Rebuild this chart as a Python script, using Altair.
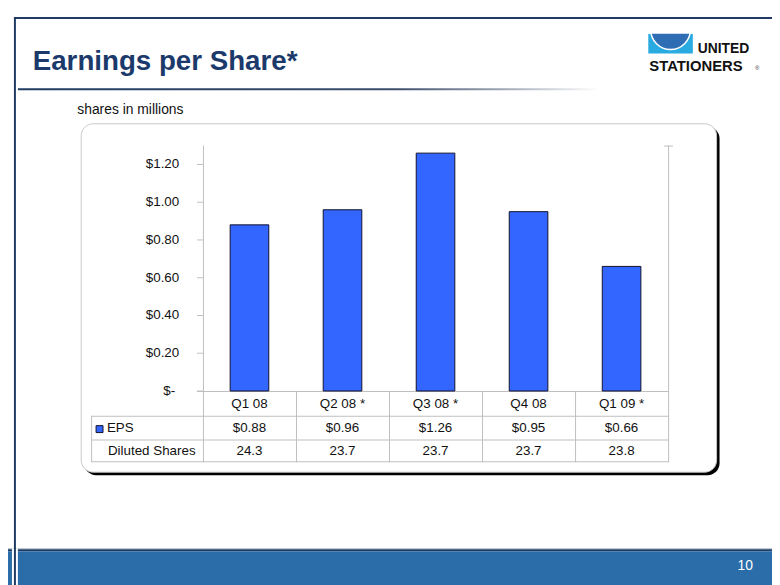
import altair as alt
import pandas as pd

# ---------------- data ----------------
quarters = ["Q1 08", "Q2 08 *", "Q3 08 *", "Q4 08", "Q1 09 *"]
eps = [0.88, 0.96, 1.26, 0.95, 0.66]
eps_labels = ["$0.88", "$0.96", "$1.26", "$0.95", "$0.66"]
diluted_shares = ["24.3", "23.7", "23.7", "23.7", "23.8"]
tick_values = [0.0, 0.2, 0.4, 0.6, 0.8, 1.0, 1.2]
tick_labels = ["$-", "$0.20", "$0.40", "$0.60", "$0.80", "$1.00", "$1.20"]

# ---------------- layout helpers ----------------
OFF = 8  # page margin
W, H = 772, 577
FONT = "Liberation Sans"
NAVY = "#1F3B63"
TITLE = "#1B3A6B"
BLUE_BAR = "#2B6DA8"
GRAY = "#BFBFBF"
BAR = "#3366FF"


def X(v):
    return alt.value(v - OFF)


def Y(v):
    return alt.value(v - OFF)


one = pd.DataFrame({"k": [0]})
data = pd.DataFrame({"quarter": quarters, "eps": eps,
                     "eps_label": eps_labels, "shares": diluted_shares})
ticks = pd.DataFrame({"v": tick_values, "label": tick_labels})

xscale = alt.Scale(domain=quarters, range=[205 - OFF, 675 - OFF],
                   paddingInner=0.585, paddingOuter=0.2925)
yscale = alt.Scale(domain=[0, 1.3], range=[392 - OFF, 144 - OFF],
                   nice=False, zero=True)


def rect(x1, x2, y1, y2, **kw):
    return alt.Chart(one).mark_rect(**kw).encode(x=X(x1), x2=X(x2), y=Y(y1), y2=Y(y2))


def text(txt, x, y, **kw):
    kw.setdefault("font", FONT)
    return alt.Chart(one).mark_text(text=txt, **kw).encode(x=X(x), y=Y(y))


layers = []

# slide frame
layers.append(rect(14, 780, 14, 16, color=NAVY))
# title
layers.append(text("Earnings per Share*", 33, 68, fontSize=28, fontWeight="bold",
                   color=TITLE, align="left", baseline="alphabetic"))
# gradient underline
grad = alt.LinearGradient(
    gradient="linear",
    stops=[alt.GradientStop(color=NAVY, offset=0),
           alt.GradientStop(color="#3B4D6B", offset=0.65),
           alt.GradientStop(color="#A8AFBC", offset=0.85),
           alt.GradientStop(color="#FFFFFF", offset=1)],
    x1=0, x2=1, y1=0, y2=0)
layers.append(rect(18, 605, 86, 88, color=grad))

# logo
layers.append(rect(655, 700, 31, 51, color="#29ABE2"))
layers.append(alt.Chart(one).mark_arc(radius=20, color="#2E6DB4", stroke="white", strokeWidth=1.5)
              .encode(x=X(677.5), y=Y(27), theta=alt.value(1.5708), theta2=alt.value(4.7124)))
layers.append(rect(650, 705, 18, 31, color="white"))
layers.append(text("UNITED", 705, 50, fontSize=14, fontWeight="bold", color="#111111",
                   align="left", baseline="alphabetic"))
layers.append(text("STATIONERS", 656, 69, fontSize=15, fontWeight="bold", color="#111111",
                   align="left", baseline="alphabetic"))
layers.append(text("®", 765, 66, fontSize=6, color="#333333", align="center", baseline="middle"))

# subtitle
layers.append(text("shares in millions", 78, 112, fontSize=14, color="#111111",
                   align="left", baseline="alphabetic"))

# chart box with shadow
layers.append(rect(85, 727, 125, 477, color="#000000", cornerRadius=12))
layers.append(rect(82, 724, 122, 474, fill="white", stroke="#C8C8C8", strokeWidth=1,
                   cornerRadius=12))

# axes & table grid lines
layers.append(rect(205, 206, 144, 464, color=GRAY))           # y axis / table col line
layers.append(rect(675, 676, 144, 464, color=GRAY))           # right edge
layers.append(rect(671, 680, 144, 145, color=GRAY))           # right top tick
layers.append(rect(199, 676, 392, 393, color=GRAY))           # zero line
for cx in [299, 393, 487, 581]:
    layers.append(rect(cx, cx + 1, 392, 464, color=GRAY))
layers.append(rect(92, 93, 417, 464, color=GRAY))              # table left border
for ry in [417, 441, 463]:
    layers.append(rect(92, 676, ry, ry + 1, color=GRAY))

# y ticks via scale
layers.append(alt.Chart(ticks).mark_rule(color=GRAY, strokeWidth=1).encode(
    x=X(199), x2=X(205), y=alt.Y("v:Q", scale=yscale, axis=None)))
# y tick labels
layers.append(alt.Chart(ticks).transform_filter("datum.v > 0").mark_text(
    font=FONT, fontSize=13.5, color="#111111", align="right", baseline="middle").encode(
    x=X(181), y=alt.Y("v:Q", scale=yscale, axis=None), text="label:N"))
layers.append(alt.Chart(ticks).transform_filter("datum.v == 0").mark_text(
    font=FONT, fontSize=13.5, color="#111111", align="right", baseline="middle").encode(
    x=X(177), y=alt.Y("v:Q", scale=yscale, axis=None), text="label:N"))

# bars
layers.append(alt.Chart(data).mark_bar(color=BAR, stroke="#10102A", strokeWidth=1).encode(
    x=alt.X("quarter:N", scale=xscale, axis=None),
    y=alt.Y("eps:Q", scale=yscale, axis=None)))

# category labels & table values
layers.append(alt.Chart(data).mark_text(font=FONT, fontSize=13.5, color="#111111",
                                        baseline="middle").encode(
    x=alt.X("quarter:N", scale=xscale, axis=None), y=Y(405), text="quarter:N"))
layers.append(alt.Chart(data).mark_text(font=FONT, fontSize=13.5, color="#111111",
                                        baseline="middle").encode(
    x=alt.X("quarter:N", scale=xscale, axis=None), y=Y(429.5), text="eps_label:N"))
layers.append(alt.Chart(data).mark_text(font=FONT, fontSize=13.5, color="#111111",
                                        baseline="middle").encode(
    x=alt.X("quarter:N", scale=xscale, axis=None), y=Y(452.5), text="shares:N"))

# row headers
layers.append(rect(97, 104, 427, 434, color=BAR, stroke="#10102A", strokeWidth=1))
layers.append(text("EPS", 108, 429.5, fontSize=13.5, color="#111111", align="left",
                   baseline="middle"))
layers.append(text("Diluted Shares", 109, 452.5, fontSize=13.5, color="#111111",
                   align="left", baseline="middle"))

# bottom bar
layers.append(rect(0, 780, 551, 552, color="#A9B8C8"))
layers.append(rect(0, 780, 552, 554, color=NAVY))
layers.append(rect(0, 780, 554, 590, color=BLUE_BAR))
layers.append(rect(12, 18, 551, 590, color="white"))
layers.append(rect(14, 16, 14, 590, color=NAVY))
layers.append(text("10", 753, 569, fontSize=14, color="white", align="center",
                   baseline="middle"))

chart = alt.layer(*layers).properties(
    width=W, height=H, padding=0,
    autosize=alt.AutoSizeParams(type="none"),
).configure_view(stroke=None)

chart.save("out.html", embed_options={"renderer": "svg", "actions": False})
